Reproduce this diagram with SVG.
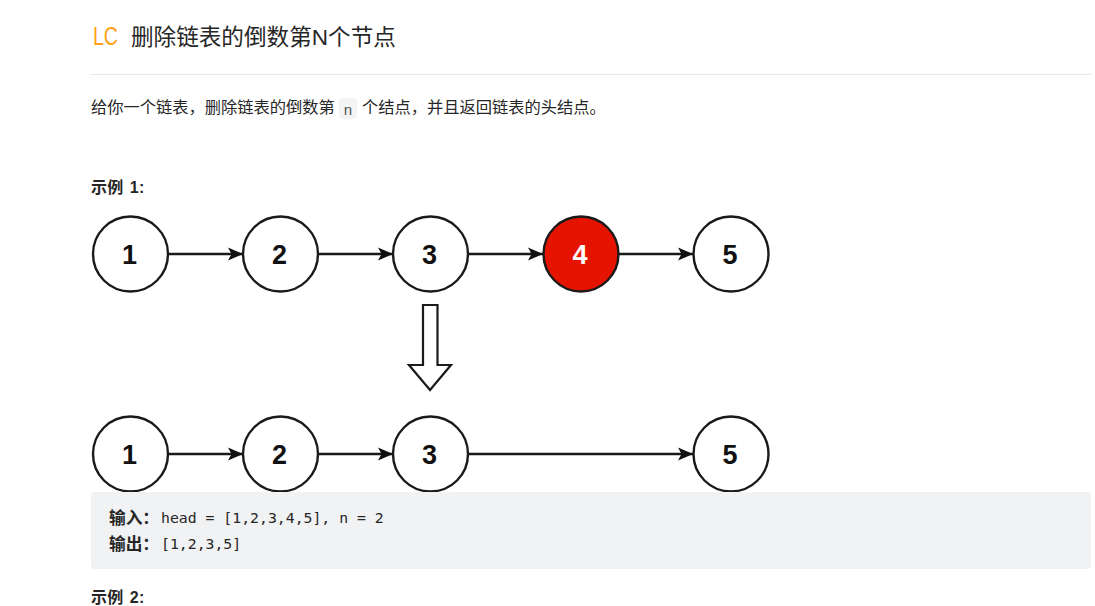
<svg xmlns="http://www.w3.org/2000/svg" width="1095" height="606" viewBox="0 0 1095 606">
<style>
text{font-family:"Liberation Sans","Noto Sans CJK SC",sans-serif}
.t{font-size:16.25px;fill:#262626}
.h{font-size:16px;font-weight:700;fill:#262626;word-spacing:1.5px;letter-spacing:.3px}
.m{font-family:"DejaVu Sans Mono","Noto Sans CJK SC",monospace;font-size:14.8px;fill:#262626}
.mb{font-family:"Noto Sans CJK SC",sans-serif;font-size:16.7px;font-weight:700;fill:#262626}
.n circle{fill:#fff;stroke:#1a1a1a;stroke-width:2.4}
.n text{font-size:27px;font-weight:700;fill:#111;text-anchor:middle}
.c line{stroke:#1a1a1a;stroke-width:2.3;marker-end:url(#a)}
</style>
<defs><marker id="a" markerUnits="userSpaceOnUse" markerWidth="16" markerHeight="14" refX="15" refY="7" orient="auto"><path d="M0 .5L15 7L0 13.500L3.500 7Z" fill="#111"/></marker></defs>
<rect width="1095" height="606" fill="#fff"/>
<text x="93" y="45" font-size="25" fill="#ffa116" textLength="25" lengthAdjust="spacingAndGlyphs">LC</text>
<text x="131" y="45" font-size="22.6" fill="#262626">删除链表的倒数第N个节点</text>
<rect x="90" y="74" width="1001" height="1" fill="#e8e8e8"/>
<text class="t" x="91" y="113">给你一个链表，删除链表的倒数第</text>
<rect x="339" y="98" width="18" height="21" rx="3" fill="#f3f4f5"/>
<text x="343.500" y="115" style="font-family:'Liberation Mono',monospace" font-size="15" fill="#555">n</text>
<text class="t" x="362" y="113">个结点，并且返回链表的头结点。</text>
<text class="h" x="91" y="193">示例 1:</text>
<g id="connectors" class="c">
<line x1="169" y1="254" x2="243" y2="254"/>
<line x1="319" y1="254" x2="393" y2="254"/>
<line x1="469" y1="254" x2="543" y2="254"/>
<line x1="619" y1="254" x2="693" y2="254"/>
<line x1="169" y1="454" x2="243" y2="454"/>
<line x1="319" y1="454" x2="393" y2="454"/>
<line x1="469" y1="454" x2="693" y2="454"/>
</g>
<g id="n1" class="n"><circle cx="130.500" cy="254" r="37.500"/><text x="129.500" y="263.500">1</text></g>
<g id="n2" class="n"><circle cx="280.500" cy="254" r="37.500"/><text x="279.500" y="263.500">2</text></g>
<g id="n3" class="n"><circle cx="430.500" cy="254" r="37.500"/><text x="429.500" y="263.500">3</text></g>
<g id="n4" class="n"><circle cx="581" cy="254" r="37.500" style="fill:#e51400"/><text x="580" y="263.500" style="fill:#fff">4</text></g>
<g id="n5" class="n"><circle cx="731" cy="254" r="37.500"/><text x="730" y="263.500">5</text></g>
<g id="down"><path d="M423 305H437.500V365H451L430 390L409 365H423Z" fill="#fff" stroke="#1a1a1a" stroke-width="2.2"/></g>
<g id="m1" class="n"><circle cx="130.500" cy="454" r="37.500"/><text x="129.500" y="463.500">1</text></g>
<g id="m2" class="n"><circle cx="280.500" cy="454" r="37.500"/><text x="279.500" y="463.500">2</text></g>
<g id="m3" class="n"><circle cx="430.500" cy="454" r="37.500"/><text x="429.500" y="463.500">3</text></g>
<g id="m5" class="n"><circle cx="731" cy="454" r="37.500"/><text x="730" y="463.500">5</text></g>
<rect x="91" y="492" width="1000" height="77" rx="4" fill="#f1f2f4"/>
<text class="mb" x="109" y="524">输入：</text>
<text class="m" x="161" y="523">head = [1,2,3,4,5], n = 2</text>
<text class="mb" x="109" y="550">输出：</text>
<text class="m" x="161" y="549">[1,2,3,5]</text>
<text class="h" x="91" y="603">示例 2:</text>
</svg>
